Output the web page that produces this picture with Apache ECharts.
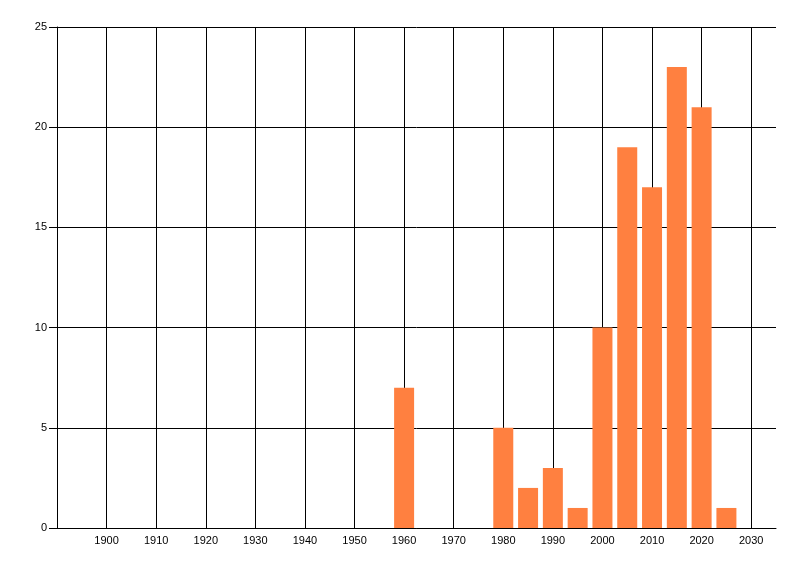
<!DOCTYPE html>
<html>
<head>
<meta charset="utf-8">
<script src="https://cdn.jsdelivr.net/npm/echarts@6/dist/echarts.min.js"></script>
<style>html,body{margin:0;padding:0;background:#fff}#c{width:800px;height:576px}</style>
</head>
<body>
<div id="c"></div>
<script>
var years = [1960, 1980, 1985, 1990, 1995, 2000, 2005, 2010, 2015, 2020, 2025];
var counts = [7, 5, 2, 3, 1, 10, 19, 17, 23, 21, 1];
var xTickLabels = [1900, 1910, 1920, 1930, 1940, 1950, 1960, 1970, 1980, 1990, 2000, 2010, 2020, 2030];

var chart = echarts.init(document.getElementById('c'), null, {renderer: 'canvas'});
var font = 'Liberation Sans';
chart.setOption({
  animation: false,
  backgroundColor: '#ffffff',
  grid: {left: 57, right: 24, top: 27, bottom: 48, containLabel: false},
  xAxis: {
    type: 'value', min: 1890, max: 2035, interval: 10,
    axisLine: {show: true, onZero: false, lineStyle: {color: '#000', width: 1}},
    axisTick: {show: false},
    splitLine: {show: true, showMinLine: false, showMaxLine: false, lineStyle: {color: '#000', width: 1}},
    axisLabel: {
      color: '#000', fontFamily: font, fontSize: 11, margin: 7,
      showMinLabel: false, showMaxLabel: false,
      formatter: function (v) { return xTickLabels.indexOf(v) >= 0 ? String(v) : ''; }
    }
  },
  yAxis: {
    type: 'value', min: 0, max: 25, interval: 5,
    axisLine: {show: true, lineStyle: {color: '#000', width: 1}},
    axisTick: {show: true, length: 8, lineStyle: {color: '#000', width: 1}},
    splitLine: {show: true, lineStyle: {color: '#000', width: 1}},
    axisLabel: {color: '#000', fontFamily: font, fontSize: 11, margin: 10}
  },
  series: [{
    type: 'bar',
    data: years.map(function (y, i) { return [y, counts[i]]; }),
    barWidth: 20,
    itemStyle: {color: '#FF8040'}
  }]
});
</script>
</body>
</html>
